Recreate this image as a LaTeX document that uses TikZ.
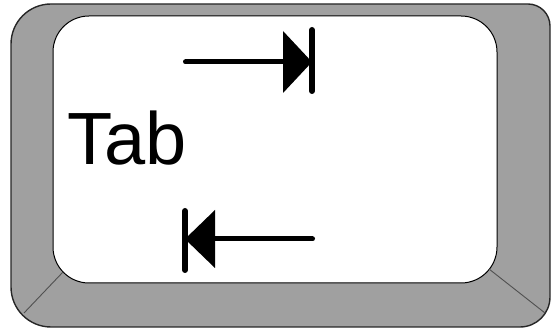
\documentclass[tikz,border=0pt]{standalone}
\usepackage{fontspec}
\setmainfont{Liberation Sans}
\usetikzlibrary{positioning}
\definecolor{keygray}{RGB}{160,160,160}
\definecolor{bevelgray}{RGB}{80,80,80}

\begin{document}
\begin{tikzpicture}[x=1pt, y=1pt,
    keyrim/.style={draw=black!85, line width=1.4pt, fill=keygray},
    keytop/.style={draw=black, line width=1pt, fill=white, rounded corners=36pt},
    bevel/.style={draw=bevelgray, line width=0.9pt},
    shaft/.style={line width=5pt, line cap=round},
    stopbar/.style={line width=6pt, line cap=round}]
    \useasboundingbox (0,0) rectangle (552,329);
    \path[keyrim] (11,42) -- (11,285) arc[start angle=180, end angle=90, radius=40]
      -- (528,325) arc[start angle=90, end angle=0, radius=22]
      -- (550,32) arc[start angle=0, end angle=-90, radius=30]
      -- (51,2) arc[start angle=-90, end angle=-180, radius=40] -- cycle;
    \path[keytop] (53,46) rectangle (497,313);
    % corner bevels
    \coordinate (bl in) at (63,57);   \coordinate (bl out) at (24,16);
    \coordinate (br in) at (489,60);  \coordinate (br out) at (545,16);
    \path[bevel] (bl in) edge (bl out) (br in) edge (br out);
    \node[anchor=base west, inner sep=0pt, font=\fontsize{74}{74}\selectfont] (tab) at (67,164) {Tab};
    % right arrow
    \coordinate (ra start) at (185.5,267); \coordinate (ra tip) at (312,267);
    \draw[shaft] (ra start) -- ([xshift=-27pt]ra tip);
    \fill ([xshift=-29pt,yshift=31pt]ra tip) -- (ra tip) -- ([xshift=-29pt,yshift=-31pt]ra tip) -- cycle;
    \draw[stopbar] ([yshift=32pt]ra tip) -- ([yshift=-29pt]ra tip);
    % left arrow
    \coordinate (la start) at (312.5,90); \coordinate (la tip) at (185,90);
    \draw[shaft] (la start) -- ([xshift=28pt]la tip);
    \fill ([xshift=30pt,yshift=29pt]la tip) -- (la tip) -- ([xshift=30pt,yshift=-29pt]la tip) -- cycle;
    \draw[stopbar] ([yshift=28pt]la tip) -- ([yshift=-31pt]la tip);
\end{tikzpicture}
\end{document}
